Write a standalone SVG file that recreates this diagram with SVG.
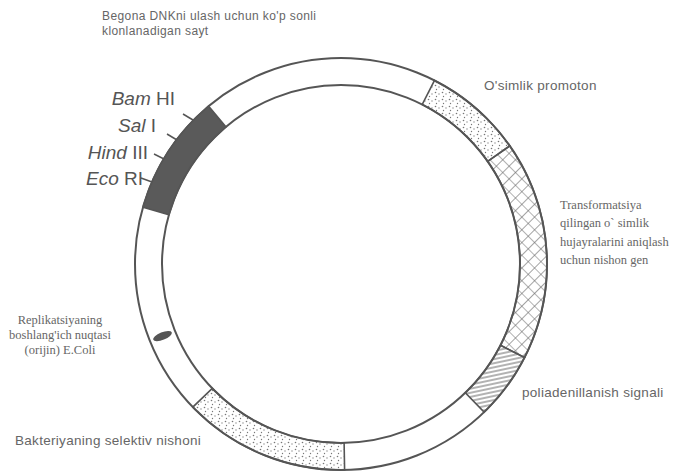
<svg xmlns="http://www.w3.org/2000/svg" width="675" height="473" viewBox="0 0 675 473">
<defs>
<pattern id="stip" width="7" height="7" patternUnits="userSpaceOnUse">
<circle cx="1.5" cy="1.5" r="0.8" fill="#777"/>
<circle cx="5" cy="3" r="0.7" fill="#888"/>
<circle cx="2.5" cy="5.5" r="0.7" fill="#777"/>
</pattern>
<pattern id="cross" width="9" height="9" patternUnits="userSpaceOnUse" patternTransform="rotate(45)">
<path d="M0 0H9M0 0V9" stroke="#666" stroke-width="1.2" fill="none"/>
</pattern>
<pattern id="hatch" width="6" height="4" patternUnits="userSpaceOnUse" patternTransform="rotate(-12)">
<path d="M0 2H6" stroke="#666" stroke-width="1" fill="none"/>
</pattern>
<style>
.ring{fill:none;stroke:#555;stroke-width:2}
.seg{stroke:#555;stroke-width:1.6}
.tick{stroke:#555;stroke-width:1.5}
.site{font-family:"Liberation Sans",Arial,sans-serif;font-size:19px;fill:#555}
.site tspan.it{font-style:italic}
.lab{font-family:"Liberation Sans",Arial,sans-serif;font-size:13.5px;letter-spacing:0.3px;fill:#666}
.top{font-family:"Liberation Sans",Arial,sans-serif;font-size:12px;letter-spacing:0.4px;fill:#666}
.ser{font-family:"Liberation Serif","Times New Roman",serif;font-size:12.5px;fill:#666}
</style>
</defs>
<rect width="675" height="473" fill="#fff"/>

<g id="plasmid">
<circle class="ring" cx="341" cy="264" r="206"/>
<circle class="ring" cx="341" cy="264" r="179"/>
</g>

<g id="promoter">
<path class="seg" fill="url(#stip)" d="M434.52 80.45 A206 206 0 0 1 509.75 145.84 L487.63 161.33 A179 179 0 0 0 422.27 104.51 Z"/>
</g>
<g id="marker-gene">
<path class="seg" fill="url(#cross)" d="M509.75 145.84 A206 206 0 0 1 524.55 357.52 L500.49 345.27 A179 179 0 0 0 487.63 161.33 Z"/>
</g>
<g id="polyA">
<path class="seg" fill="url(#hatch)" d="M524.55 357.52 A206 206 0 0 1 484.11 412.18 L465.35 392.75 A179 179 0 0 0 500.49 345.27 Z"/>
</g>
<g id="bacterial-marker">
<path class="seg" fill="url(#stip)" d="M344.59 469.97 A206 206 0 0 1 192.82 407.11 L212.25 388.35 A179 179 0 0 0 344.12 442.97 Z"/>
</g>
<g id="origin">
<ellipse cx="162.5" cy="336.1" rx="10" ry="3.8" transform="rotate(-22 162.5 336.1)" fill="#555"/>
</g>
<g id="cloning-site">
<path class="seg" fill="#5a5a5a" d="M142.98 207.22 A206 206 0 0 1 208.58 106.2 L225.94 126.88 A179 179 0 0 0 168.93 214.66 Z"/>
</g>

<g id="connectors">
<line class="tick" x1="183" y1="114" x2="193" y2="120"/>
<line class="tick" x1="167" y1="134" x2="177" y2="140"/>
<line class="tick" x1="154" y1="154" x2="164" y2="159"/>
<line class="tick" x1="141" y1="178" x2="152" y2="182"/>
</g>

<g id="site-labels">
<text class="site" x="175" y="105" text-anchor="end"><tspan class="it">Bam</tspan> HI</text>
<text class="site" x="156" y="132" text-anchor="end"><tspan class="it">Sal</tspan> I</text>
<text class="site" x="148" y="159" text-anchor="end"><tspan class="it">Hind</tspan> III</text>
<text class="site" x="143" y="185" text-anchor="end"><tspan class="it">Eco</tspan> RI</text>
</g>

<g id="label-cloning">
<text class="top" x="102" y="20">Begona DNKni ulash uchun ko'p sonli</text>
<text class="top" x="102" y="35">klonlanadigan sayt</text>
</g>
<g id="label-promoter">
<text class="lab" x="484" y="90">O'simlik promoton</text>
</g>
<g id="label-marker-gene">
<text class="ser" x="560" y="209">Transformatsiya</text>
<text class="ser" x="560" y="227">qilingan o` simlik</text>
<text class="ser" x="560" y="246">hujayralarini aniqlash</text>
<text class="ser" x="560" y="264">uchun nishon gen</text>
</g>
<g id="label-origin">
<text class="ser" x="60" y="324" text-anchor="middle">Replikatsiyaning</text>
<text class="ser" x="60" y="339" text-anchor="middle">boshlang'ich nuqtasi</text>
<text class="ser" x="60" y="354" text-anchor="middle">(orijin) E.Coli</text>
</g>
<g id="label-polyA">
<text class="lab" x="522" y="397">poliadenillanish signali</text>
</g>
<g id="label-bacterial">
<text class="lab" x="15" y="445">Bakteriyaning selektiv nishoni</text>
</g>
</svg>
